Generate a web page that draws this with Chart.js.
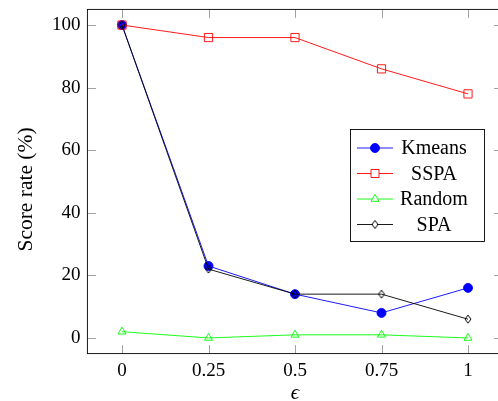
<!DOCTYPE html>
<html><head><meta charset="utf-8">
<script src="https://cdn.jsdelivr.net/npm/chart.js@4.4.0/dist/chart.umd.min.js"></script>
<style>html,body{margin:0;padding:0;overflow:hidden;background:#fff}#wrap{width:510px;height:401px;position:relative}</style>
</head><body><div id="wrap"><canvas id="c"></canvas></div>
<script>
// ---- data ----
const epsilonValues = [0, 0.25, 0.5, 0.75, 1];
const xTickLabels = ['0', '0.25', '0.5', '0.75', '1'];
const yTickValues = [0, 20, 40, 60, 80, 100];
const kmeans = [100, 23, 14, 8, 16];
const sspa = [100, 96, 96, 86, 78];
const random = [2, 0, 1, 1, 0];
const spa = [100, 22, 14, 14, 6];
const seriesNames = ['Kmeans', 'SSPA', 'Random', 'SPA'];
const yAxisTitle = 'Score rate (%)';
const xAxisTitle = 'ϵ';

const FONT = "'Liberation Serif','Times New Roman',serif";

// diamond marker (taller than wide, like pgfplots)
function makeDiamond(fill) {
  const c = document.createElement('canvas');
  c.width = 10; c.height = 12;
  const g = c.getContext('2d');
  g.beginPath();
  g.moveTo(5, 2); g.lineTo(8, 6); g.lineTo(5, 10); g.lineTo(2, 6); g.closePath();
  if (fill) { g.fillStyle = fill; g.fill(); }
  g.strokeStyle = '#000'; g.lineWidth = 1; g.stroke();
  return c;
}
const diamond = makeDiamond(null);
const diamondLegend = makeDiamond('#fff');

const toXY = arr => arr.map((v, i) => ({x: epsilonValues[i], y: v}));

const styles = [
  {color: '#0000ff', style: 'circle', radius: 4.5, bg: '#0000ff'},
  {color: '#ff0000', style: 'rect', radius: 5.8, bg: 'rgba(0,0,0,0)'},
  {color: '#00ff00', style: 'triangle', radius: 4.6, bg: 'rgba(0,0,0,0)'},
  {color: '#000000', style: diamond, radius: 4, bg: 'rgba(0,0,0,0)'}
];
const seriesData = [kmeans, sspa, random, spa];

const datasets = seriesData.map((d, i) => ({
  label: seriesNames[i],
  data: toXY(d),
  borderColor: styles[i].color,
  backgroundColor: styles[i].bg,
  borderWidth: 0.9,
  pointStyle: styles[i].style,
  pointRadius: styles[i].radius,
  pointHoverRadius: styles[i].radius,
  pointBorderWidth: 0.9,
  pointBorderColor: styles[i].color,
  pointBackgroundColor: styles[i].bg,
  tension: 0,
  order: 3 - i
}));

const decor = {
  id: 'decor',
  beforeDatasetsDraw(chart) {
    const {ctx, chartArea: a, scales: {x, y}} = chart;
    const L = 8.5;
    ctx.save();
    ctx.strokeStyle = '#a0a0a0';
    ctx.lineWidth = 1;
    ctx.beginPath();
    epsilonValues.forEach(v => {
      const px = Math.round(x.getPixelForValue(v)) + 0.5;
      ctx.moveTo(px, a.bottom); ctx.lineTo(px, a.bottom - L);
      ctx.moveTo(px, a.top); ctx.lineTo(px, a.top + L);
    });
    yTickValues.forEach(v => {
      const py = Math.round(y.getPixelForValue(v)) + 0.5;
      ctx.moveTo(a.left, py); ctx.lineTo(a.left + L, py);
      ctx.moveTo(a.right, py); ctx.lineTo(a.right - L, py);
    });
    ctx.stroke();
    // y axis title
    ctx.translate(26, 189.5);
    ctx.rotate(-Math.PI / 2);
    ctx.fillStyle = '#000';
    ctx.font = '21.5px ' + FONT;
    ctx.textAlign = 'center';
    ctx.textBaseline = 'middle';
    ctx.fillText(yAxisTitle, 0, 0);
    ctx.restore();
  },
  afterDatasetsDraw(chart) {
    const {ctx, chartArea: a} = chart;
    ctx.save();
    ctx.strokeStyle = '#000';
    ctx.lineWidth = 0.9;
    ctx.strokeRect(a.left, a.top, a.right - a.left, a.bottom - a.top);
    // legend
    const bx = 350.5, by = 129.5, bw = 134, bh = 112;
    ctx.fillStyle = '#fff';
    ctx.fillRect(bx, by, bw, bh);
    ctx.strokeRect(bx, by, bw, bh);
    const rows = [148, 173.5, 199, 224.5];
    rows.forEach((ry, i) => {
      const s = styles[i];
      ctx.strokeStyle = s.color;
      ctx.lineWidth = 0.9;
      ctx.beginPath(); ctx.moveTo(357, ry); ctx.lineTo(393, ry); ctx.stroke();
      const mx = 375;
      ctx.beginPath();
      if (i === 0) {
        ctx.arc(mx, ry, 4.5, 0, Math.PI * 2);
        ctx.fillStyle = s.color; ctx.fill(); ctx.stroke();
      } else if (i === 1) {
        ctx.rect(mx - 4, ry - 4, 8, 8);
        ctx.fillStyle = '#fff'; ctx.fill(); ctx.stroke();
      } else if (i === 2) {
        const r = 4.6;
        ctx.moveTo(mx, ry - r);
        ctx.lineTo(mx + r * 0.866, ry + r * 0.5);
        ctx.lineTo(mx - r * 0.866, ry + r * 0.5);
        ctx.closePath();
        ctx.fillStyle = '#fff'; ctx.fill(); ctx.stroke();
      } else {
        ctx.drawImage(diamondLegend, mx - 5, ry - 6);
      }
      ctx.fillStyle = '#000';
      ctx.font = '20px ' + FONT;
      ctx.textAlign = 'center';
      ctx.textBaseline = 'alphabetic';
      ctx.fillText(seriesNames[i], 434, ry + 6);
    });
    ctx.restore();
  }
};

new Chart(document.getElementById('c'), {
  type: 'line',
  data: {datasets},
  plugins: [decor],
  options: {
    responsive: true,
    maintainAspectRatio: false,
    animation: false,
    events: [],
    layout: {padding: {top: 9.4, right: 7.4, left: 0, bottom: 0}},
    plugins: {legend: {display: false}, tooltip: {enabled: false}},
    scales: {
      x: {
        type: 'linear',
        min: -0.1, max: 1.1,
        afterFit(s) { s.height = 47.4; s.paddingLeft = 0; s.paddingRight = 0; },
        afterBuildTicks(s) { s.ticks = epsilonValues.map(v => ({value: v})); },
        grid: {display: false, drawTicks: false},
        border: {display: false},
        ticks: {
          autoSkip: false, maxRotation: 0, padding: 6, color: '#000',
          font: {family: FONT, size: 19},
          callback: (v) => { const i = epsilonValues.indexOf(v); return i >= 0 ? xTickLabels[i] : ''; }
        },
        title: {display: true, text: xAxisTitle, color: '#000', padding: 0,
          font: {family: FONT, size: 21, style: 'italic', lineHeight: 0.75}}
      },
      y: {
        type: 'linear',
        min: -5, max: 105,
        afterFit(s) { s.width = 87.4; s.paddingTop = 0; s.paddingBottom = 0; },
        afterBuildTicks(s) { s.ticks = yTickValues.map(v => ({value: v})); },
        grid: {display: false, drawTicks: false},
        border: {display: false},
        ticks: {padding: 7, color: '#000', font: {family: FONT, size: 19}},
        title: {display: false}
      }
    }
  }
});
</script></body></html>
